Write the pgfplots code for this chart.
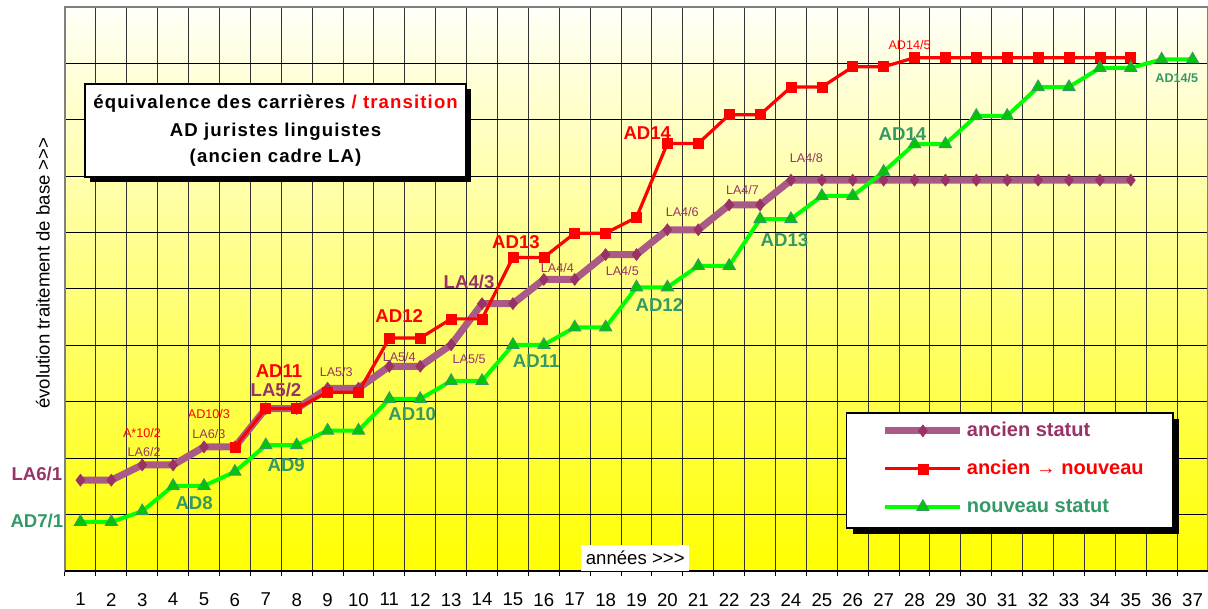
\documentclass[border=0pt]{standalone}
\usepackage{fontspec}
\setmainfont{Liberation Sans}
\usepackage{pgfplots}
\usepackage{pgfplotstable}
\pgfplotsset{compat=1.18}
\definecolor{plum}{RGB}{153,51,102}
\definecolor{plumline}{RGB}{170,90,134}
\definecolor{sea}{RGB}{51,153,102}
\definecolor{lime}{RGB}{0,255,0}
\definecolor{tri}{RGB}{0,200,0}
\definecolor{bordergray}{RGB}{128,128,128}
\definecolor{bgtop}{RGB}{255,255,248}
\definecolor{bgmid}{RGB}{255,255,200}
\definecolor{bgbot}{RGB}{255,255,0}

\pgfplotstableread{
x y
1 1.61
2 1.61
3 1.88
4 1.88
5 2.20
6 2.20
7 2.88
8 2.88
9 3.24
10 3.24
11 3.63
12 3.63
13 4.01
14 4.74
15 4.74
16 5.17
17 5.17
18 5.61
19 5.61
20 6.05
21 6.05
22 6.49
23 6.49
24 6.93
25 6.93
26 6.93
27 6.93
28 6.93
29 6.93
30 6.93
31 6.93
32 6.93
33 6.93
34 6.93
35 6.93
}\ancien

\pgfplotstableread{
x y
6 2.20
7 2.88
8 2.88
9 3.17
10 3.17
11 4.13
12 4.13
13 4.47
14 4.47
15 5.56
16 5.56
17 5.99
18 5.99
19 6.27
20 7.58
21 7.58
22 8.09
23 8.09
24 8.58
25 8.58
26 8.94
27 8.94
28 9.10
29 9.10
30 9.10
31 9.10
32 9.10
33 9.10
34 9.10
35 9.10
}\transition

\pgfplotstableread{
x y
1 0.87
2 0.87
3 1.06
4 1.51
5 1.51
6 1.76
7 2.23
8 2.23
9 2.49
10 2.49
11 3.05
12 3.05
13 3.37
14 3.37
15 4.01
16 4.01
17 4.32
18 4.32
19 5.03
20 5.03
21 5.41
22 5.41
23 6.24
24 6.24
25 6.65
26 6.65
27 7.08
28 7.57
29 7.57
30 8.07
31 8.07
32 8.58
33 8.58
34 8.92
35 8.92
36 9.07
37 9.07
}\nouveau

\newcommand{\bigf}{\fontsize{9.3}{11}\selectfont\bfseries}
\newcommand{\titf}{\fontsize{9.3}{11}\selectfont\bfseries\addfontfeatures{LetterSpace=6}}
\newcommand{\smf}{\fontsize{6.3}{7.5}\selectfont}

\begin{document}
\begin{tikzpicture}
\begin{axis}[
  name=ax,
  scale only axis, width=571.5pt, height=282pt,
  xmin=0.5, xmax=37.5, ymin=0, ymax=10,
  clip=false,
  axis background/.style={top color=bgtop, middle color=bgmid, bottom color=bgbot},
  axis line style={bordergray, line width=0.75pt},
  xtick={1,...,37},
  minor xtick={0.5,1.5,...,37.5},
  ytick={1,...,9}, yticklabels={},
  major tick length=0pt, minor tick length=2.5pt,
  tick align=outside, xtick pos=bottom, ytick pos=left,
  minor tick style={black, line width=0.5pt},
  xmajorgrids=false, xminorgrids=true, ymajorgrids=true,
  major grid style={black, line width=0.5pt},
  minor grid style={black!80, line width=0.5pt},
  /pgf/number format/assume math mode=true,
  xticklabel style={font=\fontsize{9.3}{11}\selectfont, yshift=-7.5pt},
  legend style={at={(axis cs:26.93,2.66)}, anchor=north west, draw=none, fill=none,
    inner sep=0pt, row sep=9.5pt,
    nodes={inner xsep=1.5pt, inner ysep=0pt, text height=7.5pt, text depth=2pt, font=\fontsize{10}{12}\selectfont\bfseries}},
  legend cell align=left,
  legend image code/.code={\draw[mark repeat=2,mark phase=2,#1] plot coordinates {(0pt,0pt) (18.75pt,0pt) (37.5pt,0pt)};},
]
% bottom axis line
\draw[black, line width=0.75pt] (axis cs:0.5,0) -- (axis cs:37.5,0);

\addplot[plumline, line width=3.5pt, mark=diamond*, mark size=3pt,
  mark options={fill=plum, draw=plum, line width=0.3pt}] table {\ancien};
\addlegendentry{\textcolor{plum}{ancien statut}}
\addplot[red, line width=1.6pt, mark=square*, mark size=2.5pt,
  mark options={fill=red, draw=red, line width=0.3pt}] table {\transition};
\addlegendentry{\textcolor{red}{ancien {\mdseries→} nouveau}}
\addplot[lime, line width=2pt, mark=triangle*, mark size=3.5pt,
  mark options={fill=tri, draw=sea, line width=0.5pt}] table {\nouveau};
\addlegendentry{\textcolor{sea}{nouveau statut}}

% title box
\fill[black] ([xshift=2.5pt,yshift=-2.5pt]axis cs:1.146,6.986) rectangle ([xshift=2.5pt,yshift=-2.5pt]axis cs:13.488,8.635);
\filldraw[fill=white, draw=black, line width=0.75pt] (axis cs:1.146,6.986) rectangle (axis cs:13.488,8.635);
\node[font=\titf] at (axis cs:7.317,8.28) {équivalence des carrières \textcolor{red}{/ transition}};
\node[font=\titf] at (axis cs:7.317,7.78) {AD juristes linguistes};
\node[font=\titf] at (axis cs:7.317,7.32) {(ancien cadre LA)};

% legend box
\fill[black] ([xshift=3pt,yshift=-3pt]axis cs:25.80,0.762) rectangle ([xshift=3pt,yshift=-3pt]axis cs:36.36,2.80);
\filldraw[fill=white, draw=black, line width=0.75pt] (axis cs:25.80,0.762) rectangle (axis cs:36.36,2.80);

% annees box
\node[fill=white, inner sep=0pt, minimum width=54pt, minimum height=13pt, font=\fontsize{9.3}{11}\selectfont] at (axis cs:18.96,0.23) {années >{}>{}>};

% y label
\node[rotate=90, font=\fontsize{9.3}{11}\selectfont] at (axis cs:-0.215,5.28) {évolution traitement de base >{}>{}>};

% annotations
\node[plum, font=\bigf] at (axis cs:-0.41,1.72) {LA6/1};
\node[sea, font=\bigf] at (axis cs:-0.41,0.89) {AD7/1};
\node[red, font=\smf] at (axis cs:2.99,2.45) {A*10/2};
\node[plum, font=\smf] at (axis cs:3.06,2.11) {LA6/2};
\node[red, font=\smf] at (axis cs:5.16,2.78) {AD10/3};
\node[plum, font=\smf] at (axis cs:5.16,2.43) {LA6/3};
\node[sea, font=\bigf] at (axis cs:4.68,1.21) {AD8};
\node[red, font=\bigf] at (axis cs:7.43,3.55) {AD11};
\node[plum, font=\bigf] at (axis cs:7.33,3.21) {LA5/2};
\node[sea, font=\bigf] at (axis cs:7.66,1.88) {AD9};
\node[plum, font=\smf] at (axis cs:9.28,3.53) {LA5/3};
\node[sea, font=\bigf] at (axis cs:11.74,2.78) {AD10};
\node[plum, font=\smf] at (axis cs:11.32,3.79) {LA5/4};
\node[red, font=\bigf] at (axis cs:11.32,4.52) {AD12};
\node[plum, font=\smf] at (axis cs:13.58,3.76) {LA5/5};
\node[plum, font=\bigf] at (axis cs:13.58,5.12) {LA4/3};
\node[sea, font=\bigf] at (axis cs:15.75,3.72) {AD11};
\node[red, font=\bigf] at (axis cs:15.10,5.83) {AD13};
\node[plum, font=\smf] at (axis cs:16.44,5.37) {LA4/4};
\node[plum, font=\smf] at (axis cs:18.54,5.32) {LA4/5};
\node[sea, font=\bigf] at (axis cs:19.74,4.72) {AD12};
\node[plum, font=\smf] at (axis cs:20.48,6.37) {LA4/6};
\node[red, font=\bigf] at (axis cs:19.35,7.77) {AD14};
\node[plum, font=\smf] at (axis cs:22.43,6.76) {LA4/7};
\node[sea, font=\bigf] at (axis cs:23.79,5.87) {AD13};
\node[plum, font=\smf] at (axis cs:24.50,7.32) {LA4/8};
\node[sea, font=\bigf] at (axis cs:27.61,7.75) {AD14};
\node[red, font=\smf] at (axis cs:27.84,9.33) {AD14/5};
\node[sea, font=\smf\bfseries] at (axis cs:36.49,8.74) {AD14/5};
\end{axis}
\pgfresetboundingbox
\path ([xshift=-32.5pt,yshift=-19pt]ax.south west) rectangle ([yshift=3.5pt]ax.north east);
\end{tikzpicture}
\end{document}
